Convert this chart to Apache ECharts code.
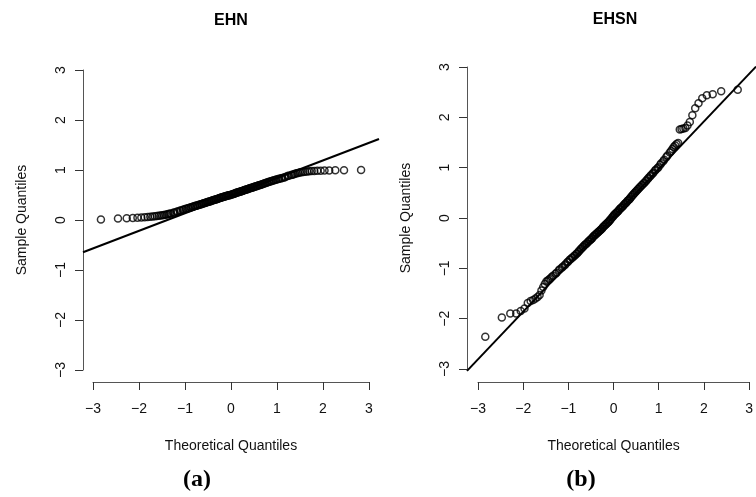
<!DOCTYPE html>
<html>
<head>
<meta charset="utf-8">
<script src="https://cdn.jsdelivr.net/npm/echarts@6/dist/echarts.min.js"></script>
<style>
html,body{margin:0;padding:0;background:#fff;}
#chart{width:756px;height:497px;}
</style>
</head>
<body>
<div id="chart"></div>
<script>
// Theoretical normal quantiles (shared by both panels)
const theoreticalQ = [
  -2.830, -2.459, -2.269, -2.137, -2.035, -1.951, -1.877, -1.813, -1.756, -1.704,
  -1.657, -1.612, -1.571, -1.531, -1.495, -1.460, -1.427, -1.395, -1.365, -1.336,
  -1.255, -1.181, -1.114, -1.051, -0.992, -0.937, -0.884, -0.833, -0.785, -0.738,
  -0.693, -0.649, -0.607, -0.566, -0.524, -0.484, -0.446, -0.408, -0.370, -0.333,
  -0.296, -0.259, -0.223, -0.188, -0.152, -0.117, -0.082, -0.047, -0.012,
  0.012, 0.047, 0.082, 0.117, 0.152, 0.188, 0.223, 0.259, 0.296,
  0.333, 0.370, 0.408, 0.446, 0.484, 0.524, 0.566, 0.607, 0.649, 0.693,
  0.738, 0.785, 0.833, 0.884, 0.937, 0.992, 1.051, 1.114, 1.181, 1.255,
  1.336, 1.365, 1.395, 1.427, 1.460, 1.495, 1.531, 1.571, 1.612, 1.657,
  1.704, 1.756, 1.813, 1.877, 1.951, 2.035, 2.137, 2.269, 2.459, 2.830
];
// Additional theoretical quantiles in the dense central band
const theoreticalQMid = [
  -1.308, -1.230, -1.159, -1.093, -1.031, -0.974, -0.919, -0.867, -0.817, -0.769,
  -0.723, -0.678, -0.635, -0.593, -0.552, -0.511, -0.472, -0.433, -0.395, -0.357,
  -0.320, -0.284, -0.247, -0.211, -0.176, -0.140, -0.105, -0.070, -0.035,
  0.035, 0.070, 0.105, 0.140, 0.176, 0.211, 0.247, 0.284, 0.320, 0.357,
  0.395, 0.433, 0.472, 0.511, 0.552, 0.593, 0.635, 0.678, 0.723, 0.769,
  0.817, 0.867, 0.919, 0.974, 1.031, 1.093, 1.159, 1.230, 1.308
];

// Sample quantiles, panel (a) EHN
const ehnSample = [
  0.010, 0.030, 0.035, 0.040, 0.045, 0.050, 0.055, 0.060, 0.065, 0.070,
  0.075, 0.080, 0.085, 0.090, 0.095, 0.100, 0.105, 0.110, 0.118, 0.125,
  0.145, 0.165, 0.185, 0.200, 0.220, 0.235, 0.250, 0.265, 0.280, 0.290,
  0.305, 0.315, 0.330, 0.340, 0.355, 0.365, 0.375, 0.390, 0.400, 0.410,
  0.420, 0.435, 0.445, 0.455, 0.465, 0.475, 0.485, 0.495, 0.500,
  0.510, 0.520, 0.530, 0.545, 0.555, 0.565, 0.575, 0.585, 0.600,
  0.610, 0.620, 0.635, 0.645, 0.655, 0.670, 0.680, 0.695, 0.705, 0.720,
  0.735, 0.750, 0.765, 0.780, 0.795, 0.810, 0.825, 0.840, 0.860, 0.885,
  0.905, 0.915, 0.925, 0.935, 0.940, 0.950, 0.955, 0.960, 0.965, 0.970,
  0.975, 0.978, 0.980, 0.983, 0.986, 0.990, 0.992, 0.994, 0.996, 0.998
];
const ehnSampleMid = [
  0.132, 0.152, 0.172, 0.190, 0.208, 0.225, 0.240, 0.255, 0.270, 0.283,
  0.295, 0.308, 0.322, 0.334, 0.347, 0.358, 0.368, 0.382, 0.394, 0.404,
  0.414, 0.426, 0.438, 0.448, 0.458, 0.468, 0.478, 0.488, 0.497,
  0.516, 0.526, 0.540, 0.550, 0.561, 0.571, 0.581, 0.594, 0.606, 0.616,
  0.628, 0.641, 0.651, 0.664, 0.676, 0.690, 0.700, 0.715, 0.730, 0.745,
  0.760, 0.775, 0.790, 0.805, 0.820, 0.835, 0.852, 0.878, 0.898
];

// Sample quantiles, panel (b) EHSN
const ehsnSample = [
  -2.35, -1.97, -1.89, -1.89, -1.84, -1.79, -1.68, -1.64, -1.62, -1.59,
  -1.56, -1.52, -1.43, -1.36, -1.30, -1.25, -1.23, -1.21, -1.19, -1.16,
  -1.10, -1.03, -0.98, -0.93, -0.87, -0.82, -0.78, -0.74, -0.70, -0.66,
  -0.61, -0.57, -0.53, -0.50, -0.46, -0.43, -0.40, -0.36, -0.33, -0.30,
  -0.27, -0.24, -0.21, -0.17, -0.14, -0.11, -0.08, -0.05, -0.01,
  0.02, 0.06, 0.09, 0.12, 0.15, 0.19, 0.22, 0.25, 0.29,
  0.32, 0.36, 0.39, 0.43, 0.47, 0.51, 0.55, 0.59, 0.63, 0.67,
  0.71, 0.76, 0.81, 0.86, 0.91, 0.97, 1.02, 1.10, 1.17, 1.25,
  1.34, 1.38, 1.42, 1.45, 1.48, 1.50, 1.77, 1.78, 1.79, 1.80,
  1.85, 1.92, 2.05, 2.19, 2.29, 2.39, 2.45, 2.47, 2.53, 2.56
];
const ehsnSampleMid = [
  -1.14, -1.08, -1.01, -0.96, -0.91, -0.86, -0.81, -0.77, -0.73, -0.69,
  -0.64, -0.60, -0.56, -0.52, -0.49, -0.45, -0.42, -0.39, -0.35, -0.32,
  -0.29, -0.26, -0.23, -0.20, -0.16, -0.13, -0.10, -0.07, -0.03,
  0.04, 0.08, 0.11, 0.14, 0.18, 0.21, 0.24, 0.28, 0.31, 0.35,
  0.38, 0.42, 0.46, 0.50, 0.54, 0.58, 0.62, 0.66, 0.70, 0.74,
  0.79, 0.84, 0.89, 0.95, 1.00, 1.07, 1.14, 1.22, 1.31
];

// Reference (qq) line endpoints
const ehnLineX = [-3.22, 3.22];
const ehnLineY = [-0.646, 1.62];
const ehsnLineX = [-3.24, 3.24];
const ehsnLineY = [-3.03, 3.02];

// Tick values and labels
const tickValues = [-3, -2, -1, 0, 1, 2, 3];
const tickLabels = ['\u22123', '\u22122', '\u22121', '0', '1', '2', '3'];

const panelTitles = ['EHN', 'EHSN'];
const panelCaptions = ['(a)', '(b)'];
const xAxisTitle = 'Theoretical Quantiles';
const yAxisTitle = 'Sample Quantiles';

function pairs(xs, ys) { return xs.map((x, i) => [x, ys[i]]); }
function tickFmt(v) {
  const i = tickValues.indexOf(Math.round(v));
  return i >= 0 ? tickLabels[i] : '';
}

const FONT = "'Liberation Sans', Arial, Helvetica, sans-serif";
const axisLineStyle = { color: '#555', width: 1 };
const tickStyle = { color: '#333', width: 1 };

function hiddenAxis(grid, min, max) {
  return { type: 'value', gridIndex: grid, min: min, max: max, show: false,
           splitLine: { show: false } };
}
function visibleX(grid, nameGap) {
  return {
    type: 'value', gridIndex: grid, min: -3, max: 3, interval: 1, position: 'bottom',
    axisLine: { show: true, onZero: false, lineStyle: axisLineStyle },
    axisTick: { show: true, inside: false, length: 8, lineStyle: tickStyle },
    axisLabel: { show: true, margin: 20, fontSize: 14, color: '#111', fontFamily: FONT, formatter: tickFmt },
    splitLine: { show: false },
    name: xAxisTitle, nameLocation: 'middle', nameGap: nameGap,
    nameTextStyle: { fontSize: 14, color: '#111', fontFamily: FONT }
  };
}
function visibleY(grid, nameGap) {
  return {
    type: 'value', gridIndex: grid, min: -3, max: 3, interval: 1, position: 'left',
    axisLine: { show: true, onZero: false, lineStyle: axisLineStyle },
    axisTick: { show: true, inside: false, length: 8, lineStyle: tickStyle },
    axisLabel: { show: true, margin: 15, fontSize: 14, rotate: 90, color: '#111', fontFamily: FONT, formatter: tickFmt },
    splitLine: { show: false },
    name: yAxisTitle, nameLocation: 'middle', nameGap: nameGap,
    nameTextStyle: { fontSize: 14, color: '#111', fontFamily: FONT }
  };
}

const scatterStyle = {
  type: 'scatter', symbol: 'circle', symbolSize: 7,
  itemStyle: { color: 'rgba(0,0,0,0)', borderColor: '#000', borderWidth: 1.5 },
  emphasis: { disabled: true }, silent: true
};
const lineStyleSeries = {
  type: 'line', showSymbol: false, symbol: 'none', clip: true,
  lineStyle: { color: '#000', width: 2 }, silent: true
};

const chart = echarts.init(document.getElementById('chart'), null, { renderer: 'canvas' });
chart.setOption({
  animation: false,
  backgroundColor: '#fff',
  grid: [
    { left: 83, top: 58, width: 296, height: 324 },   // 0 data (a)
    { left: 93, top: 300, width: 276, height: 82 },   // 1 x axis (a)
    { left: 83, top: 70, width: 200, height: 300 },   // 2 y axis (a)
    { left: 467, top: 55, width: 298, height: 327 },  // 3 data (b)
    { left: 478, top: 300, width: 276, height: 82 },  // 4 x axis (b)
    { left: 467, top: 67, width: 200, height: 302 }   // 5 y axis (b)
  ],
  xAxis: [
    hiddenAxis(0, -3.22, 3.22),
    visibleX(1, 57),
    hiddenAxis(2, -3, 3),
    hiddenAxis(3, -3.24, 3.24),
    visibleX(4, 57),
    hiddenAxis(5, -3, 3)
  ],
  yAxis: [
    hiddenAxis(0, -3.24, 3.24),
    hiddenAxis(1, -3, 3),
    visibleY(2, 54),
    hiddenAxis(3, -3.25, 3.25),
    hiddenAxis(4, -3, 3),
    visibleY(5, 54)
  ],
  series: [
    Object.assign({}, scatterStyle, { xAxisIndex: 0, yAxisIndex: 0,
      data: pairs(theoreticalQ, ehnSample).concat(pairs(theoreticalQMid, ehnSampleMid)) }),
    Object.assign({}, lineStyleSeries, { xAxisIndex: 0, yAxisIndex: 0, data: pairs(ehnLineX, ehnLineY) }),
    Object.assign({}, scatterStyle, { xAxisIndex: 3, yAxisIndex: 3,
      data: pairs(theoreticalQ, ehsnSample).concat(pairs(theoreticalQMid, ehsnSampleMid)) }),
    Object.assign({}, lineStyleSeries, { xAxisIndex: 3, yAxisIndex: 3, data: pairs(ehsnLineX, ehsnLineY) })
  ],
  graphic: [
    { type: 'text', x: 231, y: 21, style: { text: panelTitles[0], textAlign: 'center', textVerticalAlign: 'middle', font: "bold 16px " + FONT, fill: '#000' } },
    { type: 'text', x: 615, y: 20, style: { text: panelTitles[1], textAlign: 'center', textVerticalAlign: 'middle', font: "bold 16px " + FONT, fill: '#000' } },
    { type: 'text', x: 197, y: 480, style: { text: panelCaptions[0], textAlign: 'center', textVerticalAlign: 'middle', font: "bold 24px 'Liberation Serif', 'DejaVu Serif', serif", fill: '#000' } },
    { type: 'text', x: 581, y: 480, style: { text: panelCaptions[1], textAlign: 'center', textVerticalAlign: 'middle', font: "bold 24px 'Liberation Serif', 'DejaVu Serif', serif", fill: '#000' } }
  ]
});
</script>
</body>
</html>
